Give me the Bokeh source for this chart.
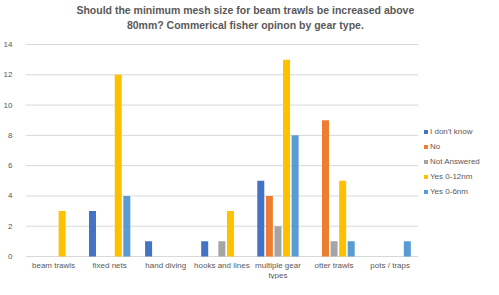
from bokeh.plotting import figure
from bokeh.models import Legend, LegendItem, ColumnDataSource, FixedTicker, Range1d
from bokeh.core.properties import value
from bokeh.embed import file_html
from bokeh.resources import INLINE

categories = ["beam trawls", "fixed nets", "hand diving", "hooks and lines",
              "multiple gear\ntypes", "otter trawls", "pots / traps"]
series_names = ["I don't know", "No", "Not Answered", "Yes 0-12nm", "Yes 0-6nm"]
i_dont_know = [0, 3, 1, 1, 5, 0, 0]
no = [0, 0, 0, 0, 4, 9, 0]
not_answered = [0, 0, 0, 1, 2, 1, 0]
yes_0_12nm = [3, 12, 0, 3, 13, 5, 0]
yes_0_6nm = [0, 4, 0, 0, 8, 1, 1]
colors = ["#4472C4", "#ED7D31", "#A5A5A5", "#FFC000", "#5B9BD5"]
y_ticks = [0, 2, 4, 6, 8, 10, 12, 14]
title_lines = ["Should the minimum mesh size for beam trawls be increased above",
               "80mm? Commerical fisher opinon by gear type."]

series_values = [i_dont_know, no, not_answered, yes_0_12nm, yes_0_6nm]
n_cat = len(categories)
centers = [i + 0.5 for i in range(n_cat)]
y_top = y_ticks[-1]

# layout (pixels)
W, H = 483, 279
left_border = 20
plot_px = 397            # width of the category area
top_px, zero_px = 44, 256  # pixel rows of the top tick and of zero
ppu = (zero_px - top_px) / y_top
x_end = n_cat * (W - left_border) / plot_px
y_max = y_top + top_px / ppu
y_min = -(H - zero_px) / ppu

p = figure(width=W, height=H, x_range=Range1d(0, x_end), y_range=Range1d(y_min, y_max),
           output_backend="svg", toolbar_location=None, x_axis_location=None,
           min_border_left=left_border, min_border_right=0,
           min_border_bottom=0, min_border_top=0)

# horizontal gridlines across the category area only
p.segment(x0=[0] * len(y_ticks), x1=[n_cat] * len(y_ticks), y0=y_ticks, y1=y_ticks,
          line_color="#D9D9D9", line_width=1)

pitch = 0.153
renderers = []
for k, vals in enumerate(series_values):
    xs = [c + (k - 2) * pitch for c in centers]
    src = ColumnDataSource(dict(x=xs, top=vals))
    r = p.vbar(x="x", top="top", width=0.125, source=src,
               fill_color=colors[k], line_color=None)
    renderers.append(r)

# category labels under the zero line
p.text(x=centers, y=[0] * n_cat, text=categories, text_align="center", text_baseline="top",
       y_offset=4, text_font=value("Liberation Sans"), text_font_size="8px",
       text_color="#595959", text_line_height=1.2)

# title, two centred lines
p.text(x=[n_cat / 2] * 2, y=[y_top] * 2, text=title_lines, x_offset=23.5, y_offset=[-35, -20],
       text_align="center", text_baseline="middle", text_font=value("Liberation Sans"),
       text_font_size="10.5px", text_font_style="bold", text_color="#595959")

legend = Legend(items=[LegendItem(label=n, renderers=[r]) for n, r in zip(series_names, renderers)],
                location=(398, 83), glyph_width=5, glyph_height=5, label_text_font_size="8px",
                label_text_color="#595959", label_text_font="Liberation Sans",
                spacing=6, padding=0, margin=0, border_line_color=None, label_standoff=2,
                label_height=9, background_fill_alpha=0)
p.add_layout(legend)

p.outline_line_color = None
p.xgrid.grid_line_color = None
p.ygrid.grid_line_color = None
p.yaxis.ticker = FixedTicker(ticks=y_ticks)
p.yaxis.axis_line_color = None
p.yaxis.major_tick_line_color = None
p.yaxis.minor_tick_line_color = None
p.yaxis.major_label_text_font_size = "8px"
p.yaxis.major_label_text_color = "#595959"
p.yaxis.major_label_text_font = "Liberation Sans"
p.yaxis.major_label_standoff = 7

open("out.html", "w").write(file_html(p, INLINE))
